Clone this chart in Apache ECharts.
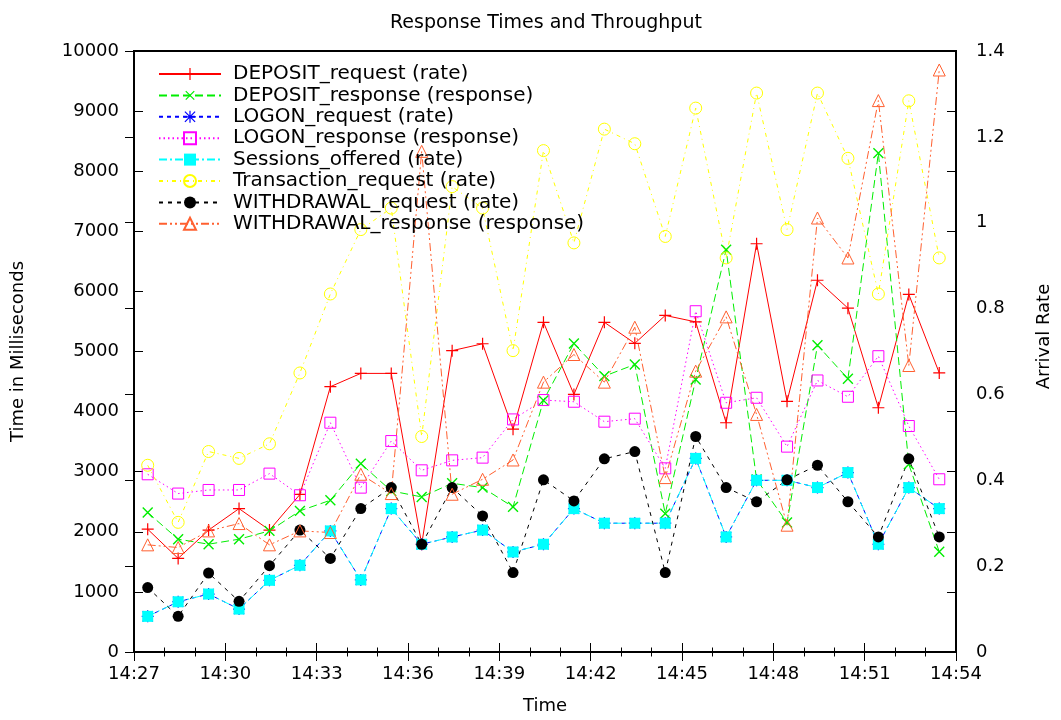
<!DOCTYPE html>
<html>
<head>
<meta charset="utf-8">
<script src="https://cdn.jsdelivr.net/npm/echarts@6/dist/echarts.min.js"></script>
<style>
  html, body { margin: 0; padding: 0; background: #fff; }
  #chart { width: 1061px; height: 720px; }
</style>
</head>
<body>
<div id="chart"></div>
<script>
var FONT = "DejaVu Sans";

// sample times (one per minute)
var times = [
  "14:27:27", "14:28:27", "14:29:27", "14:30:27", "14:31:27", "14:32:27",
  "14:33:27", "14:34:27", "14:35:27", "14:36:27", "14:37:27", "14:38:27",
  "14:39:27", "14:40:27", "14:41:27", "14:42:27", "14:43:27", "14:44:27",
  "14:45:27", "14:46:27", "14:47:27", "14:48:27", "14:49:27", "14:50:27",
  "14:51:27", "14:52:27", "14:53:27"
];

// rates (right axis)
var depositRequest = [0.286, 0.218, 0.284, 0.334, 0.284, 0.367, 0.618, 0.649, 0.649, 0.251, 0.702, 0.718, 0.519, 0.768, 0.600, 0.768, 0.719, 0.784, 0.769, 0.534, 0.951, 0.584, 0.866, 0.801, 0.569, 0.833, 0.650];
var logonRequest = [0.083, 0.117, 0.135, 0.100, 0.167, 0.202, 0.282, 0.168, 0.334, 0.251, 0.268, 0.284, 0.233, 0.251, 0.334, 0.300, 0.300, 0.300, 0.451, 0.268, 0.400, 0.400, 0.383, 0.418, 0.251, 0.383, 0.334];
var sessionsOffered = [0.083, 0.117, 0.135, 0.100, 0.167, 0.202, 0.282, 0.168, 0.334, 0.251, 0.268, 0.284, 0.233, 0.251, 0.334, 0.300, 0.300, 0.300, 0.451, 0.268, 0.400, 0.400, 0.383, 0.418, 0.251, 0.383, 0.334];
var transactionRequest = [0.435, 0.302, 0.467, 0.451, 0.485, 0.650, 0.834, 0.984, 1.034, 0.502, 1.084, 1.034, 0.702, 1.168, 0.953, 1.218, 1.184, 0.968, 1.267, 0.918, 1.302, 0.984, 1.302, 1.150, 0.834, 1.284, 0.918];
var withdrawalRequest = [0.150, 0.083, 0.184, 0.118, 0.201, 0.284, 0.218, 0.334, 0.383, 0.251, 0.383, 0.317, 0.185, 0.401, 0.352, 0.450, 0.467, 0.185, 0.502, 0.383, 0.350, 0.401, 0.435, 0.350, 0.268, 0.450, 0.268];

// response times in ms (left axis)
var depositResponse = [2320, 1877, 1794, 1877, 2015, 2348, 2525, 3134, 2680, 2580, 2807, 2735, 2414, 4186, 5133, 4590, 4784, 2303, 4535, 6694, 2870, 2154, 5105, 4546, 8300, 3123, 1667];
var logonResponse = [2957, 2636, 2696, 2696, 2968, 2608, 3815, 2735, 3510, 3023, 3189, 3234, 3870, 4192, 4164, 3832, 3882, 3056, 5670, 4147, 4230, 3417, 4518, 4247, 4922, 3760, 2874];
var withdrawalResponse = [1783, 1738, 2015, 2137, 1783, 2015, 1988, 2957, 2636, 8330, 2625, 2874, 3195, 4490, 4950, 4490, 5404, 2902, 4673, 5576, 3953, 2110, 7221, 6556, 9175, 4767, 9684];

var startMin = 14 * 60 + 27;

function toMin(t) {
  var p = t.split(":");
  return (+p[0]) * 60 + (+p[1]) + (+p[2]) / 60 - startMin;
}

function pairs(vals) {
  return times.map(function (t, i) { return [toMin(t), vals[i]]; });
}

var PLUS = "path://M4.5,0h1v10h-1z M0,4.5h10v1h-10z";
var STAR = "path://M4.5,0h1v10h-1z M0,4.5h10v1h-10z M1.1,0.4L9.6,8.9L8.9,9.6L0.4,1.1z M8.9,0.4L9.6,1.1L1.1,9.6L0.4,8.9z";

function line(name, vals, axis, color, dash, symbol, size, hollow, rot) {
  return {
    name: name,
    type: "line",
    yAxisIndex: axis,
    data: pairs(vals),
    symbol: symbol,
    symbolSize: size,
    symbolRotate: rot || 0,
    showSymbol: true,
    lineStyle: { color: color, width: 1, type: dash },
    itemStyle: hollow
      ? { color: "rgba(255,255,255,0)", borderColor: color, borderWidth: 1 }
      : { color: color },
    emphasis: { disabled: true }
  };
}

var myChart = echarts.init(document.getElementById("chart"));

option = {
  animation: false,
  backgroundColor: "#fff",
  title: {
    text: "Response Times and Throughput",
    left: 385,
    top: 9,
    textStyle: { fontFamily: FONT, fontSize: 19, fontWeight: "normal", color: "#000" }
  },
  legend: {
    orient: "vertical",
    left: 153,
    top: 59,
    itemWidth: 62,
    itemHeight: 15,
    itemGap: 1.4,
    textStyle: { fontFamily: FONT, fontSize: 20, color: "#000", lineHeight: 20, padding: [0, 0, 0, 7] },
    selectedMode: false
  },
  grid: {
    left: 134,
    right: 104,
    top: 51,
    bottom: 67,
    show: true,
    borderColor: "#000",
    borderWidth: 2
  },
  xAxis: [
    {
      type: "value",
      min: 0,
      max: 27,
      interval: 3,
      name: "Time",
      nameLocation: "middle",
      nameGap: 45,
      nameTextStyle: { fontFamily: FONT, fontSize: 18, color: "#000" },
      axisLine: { show: false },
      axisTick: { inside: true, length: 9, lineStyle: { color: "#000" } },
      minorTick: { show: true, splitNumber: 3, length: 4.5, lineStyle: { color: "#000" } },
      splitLine: { show: false },
      axisLabel: {
        margin: 13,
        fontFamily: FONT,
        fontSize: 18,
        color: "#000",
        formatter: function (v) {
          var m = startMin + v;
          return Math.floor(m / 60) + ":" + ("0" + (m % 60)).slice(-2);
        }
      }
    },
    {
      type: "value",
      position: "top",
      min: 0,
      max: 27,
      interval: 3,
      axisLine: { show: false },
      axisTick: { inside: true, length: 9, lineStyle: { color: "#000" } },
      minorTick: { show: true, splitNumber: 3, length: 4.5, lineStyle: { color: "#000" } },
      splitLine: { show: false },
      axisLabel: { show: false }
    }
  ],
  yAxis: [
    {
      type: "value",
      min: 0,
      max: 10000,
      interval: 1000,
      name: "Time in Milliseconds",
      nameLocation: "middle",
      nameRotate: 90,
      nameGap: 107,
      nameTextStyle: { fontFamily: FONT, fontSize: 18, color: "#000" },
      axisLine: { show: false },
      axisTick: { inside: true, length: 9, lineStyle: { color: "#000" } },
      splitLine: { show: false },
      axisLabel: {
        margin: 15,
        fontFamily: FONT,
        fontSize: 18,
        color: "#000",
        formatter: function (v) { return String(v); }
      }
    },
    {
      type: "value",
      position: "right",
      min: 0,
      max: 1.4,
      interval: 0.2,
      name: "Arrival Rate",
      nameLocation: "middle",
      nameRotate: 90,
      nameGap: 79,
      nameTextStyle: { fontFamily: FONT, fontSize: 18, color: "#000", padding: [0, 0, 0, 30] },
      axisLine: { show: false },
      axisTick: { inside: true, length: 9, lineStyle: { color: "#000" } },
      splitLine: { show: false },
      axisLabel: {
        margin: 20,
        fontFamily: FONT,
        fontSize: 18,
        color: "#000",
        formatter: function (v) { return +v.toFixed(1) + ""; }
      }
    },
    {
      // mirror of the left ticks on the right border
      type: "value",
      position: "right",
      min: 0,
      max: 10000,
      interval: 1000,
      axisLine: { show: false },
      axisTick: { inside: true, length: 9, lineStyle: { color: "#000" } },
      splitLine: { show: false },
      axisLabel: { show: false }
    }
  ],
  series: [
    line("DEPOSIT_request (rate)", depositRequest, 1, "#ff0000", "solid", PLUS, 12, false),
    line("DEPOSIT_response (response)", depositResponse, 0, "#00ee00", [8, 4], PLUS, 14, false, 45),
    line("LOGON_request (rate)", logonRequest, 1, "#0000ff", [4, 4], STAR, 12, false),
    line("LOGON_response (response)", logonResponse, 0, "#ff00ff", [1.5, 3], "rect", 11, true),
    line("Sessions_offered (rate)", sessionsOffered, 1, "#00ffff", [8, 3, 2, 3], "rect", 11, false),
    line("Transaction_request (rate)", transactionRequest, 1, "#ffff00", [4, 4, 1, 4], "circle", 12, true),
    line("WITHDRAWAL_request (rate)", withdrawalRequest, 1, "#000000", [4, 5], "circle", 11, false),
    line("WITHDRAWAL_response (response)", withdrawalResponse, 0, "#ff6030", [8, 3, 2, 3, 2, 3], "triangle", 12, true)
  ]
};

myChart.setOption(option);
</script>
</body>
</html>
